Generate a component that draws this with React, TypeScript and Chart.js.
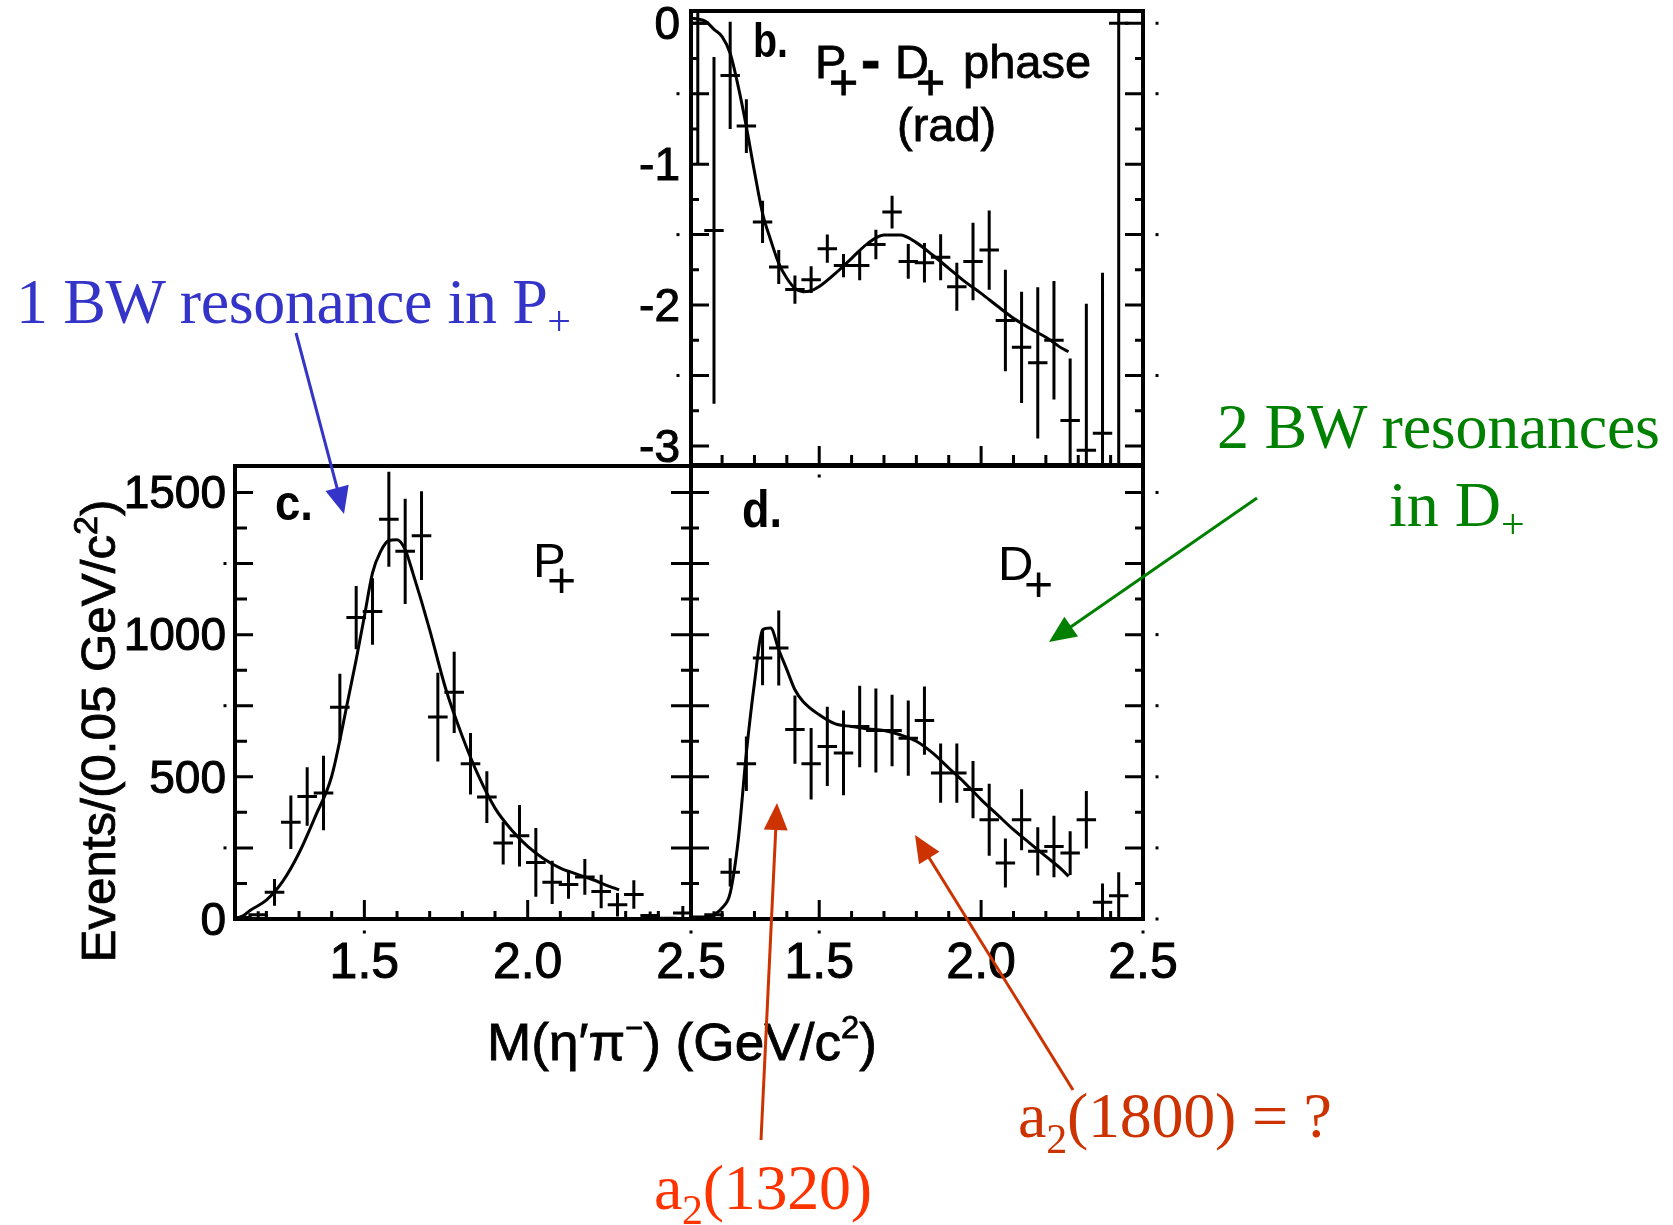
import React, { useEffect, useRef } from "react";
import { Chart, registerables } from "chart.js";

Chart.register(...registerables);

const PAGE_W = 1673;
const PAGE_H = 1225;
const SANS = "'Liberation Sans', Arial, Helvetica, sans-serif";
const SERIF = "'Liberation Serif', 'Times New Roman', serif";

// ---------------- Panel b : P+ - D+ phase (rad) ----------------
const phaseMass = [1.125, 1.175, 1.225, 1.275, 1.325, 1.375, 1.425, 1.475, 1.525, 1.575, 1.625, 1.675, 1.725, 1.775, 1.825, 1.875, 1.925, 1.975, 2.025, 2.075, 2.125, 2.175, 2.225, 2.275, 2.325, 2.375, 2.425];
const phaseValue = [0.0, -1.47, -0.37, -0.73, -1.41, -1.73, -1.89, -1.82, -1.6, -1.72, -1.72, -1.57, -1.34, -1.69, -1.7, -1.66, -1.87, -1.69, -1.61, -2.11, -2.3, -2.41, -2.25, -2.82, -3.03, -2.91, 0.0];
const phaseError = [1.0, 1.23, 0.38, 0.19, 0.15, 0.12, 0.1, 0.095, 0.1, 0.083, 0.104, 0.104, 0.116, 0.123, 0.14, 0.163, 0.17, 0.275, 0.282, 0.36, 0.395, 0.537, 0.421, 0.44, 1.04, 1.14, 3.5];
const phaseFitMass = [1.105, 1.125, 1.15, 1.175, 1.2, 1.225, 1.25, 1.275, 1.3, 1.325, 1.35, 1.375, 1.4, 1.425, 1.45, 1.475, 1.5, 1.55, 1.6, 1.65, 1.7, 1.75, 1.8, 1.85, 1.9, 1.95, 2.0, 2.05, 2.1, 2.15, 2.2, 2.25, 2.27];
const phaseFitValue = [0.035, 0.03, 0.012, -0.043, -0.095, -0.213, -0.45, -0.734, -1.053, -1.349, -1.538, -1.704, -1.81, -1.881, -1.905, -1.898, -1.869, -1.775, -1.668, -1.562, -1.503, -1.503, -1.557, -1.645, -1.739, -1.834, -1.917, -2.007, -2.094, -2.165, -2.229, -2.307, -2.331];

// ---------------- Panel c : P+ wave ----------------
const pWaveMass = [1.125, 1.175, 1.225, 1.275, 1.325, 1.375, 1.425, 1.475, 1.525, 1.575, 1.625, 1.675, 1.725, 1.775, 1.825, 1.875, 1.925, 1.975, 2.025, 2.075, 2.125, 2.175, 2.225, 2.275, 2.325, 2.375, 2.425, 2.475];
const pWaveEvents = [5, 15, 94, 340, 431, 443, 745, 1060, 1081, 1406, 1293, 1348, 710, 797, 546, 429, 267, 293, 199, 129, 121, 148, 97, 50, 86, 12, 3, 21];
const pWaveError = [8, 12, 47, 94, 103, 131, 117, 111, 117, 167, 185, 156, 156, 143, 108, 91, 75, 108, 121, 76, 50, 63, 59, 41, 50, 14, 5, 25];
const pFitMass = [1.105, 1.13, 1.15, 1.2, 1.25, 1.3, 1.35, 1.4, 1.45, 1.475, 1.5, 1.525, 1.55, 1.575, 1.6, 1.625, 1.65, 1.675, 1.7, 1.75, 1.8, 1.85, 1.9, 1.95, 2.0, 2.05, 2.1, 2.15, 2.2, 2.25, 2.28];
const pFitEvents = [2, 12, 30, 66, 132, 232, 361, 502, 771, 912, 1064, 1217, 1293, 1331, 1334, 1299, 1211, 1117, 1017, 806, 642, 502, 390, 314, 255, 211, 179, 158, 138, 115, 103];

// ---------------- Panel d : D+ wave ----------------
const dWaveMass = [1.125, 1.175, 1.225, 1.275, 1.325, 1.375, 1.425, 1.475, 1.525, 1.575, 1.625, 1.675, 1.725, 1.775, 1.825, 1.875, 1.925, 1.975, 2.025, 2.075, 2.125, 2.175, 2.225, 2.275, 2.325, 2.375, 2.425];
const dWaveEvents = [3, 15, 164, 546, 918, 953, 666, 546, 607, 584, 677, 663, 663, 636, 698, 513, 513, 455, 349, 197, 349, 238, 255, 232, 349, 59, 82];
const dWaveError = [5, 12, 50, 96, 96, 132, 120, 126, 139, 149, 143, 148, 126, 132, 120, 104, 104, 101, 127, 86, 107, 85, 108, 77, 101, 66, 82];
const dFitMass = [1.105, 1.15, 1.175, 1.2, 1.225, 1.25, 1.275, 1.3, 1.325, 1.35, 1.375, 1.4, 1.425, 1.45, 1.5, 1.55, 1.6, 1.65, 1.7, 1.75, 1.8, 1.85, 1.9, 1.95, 2.0, 2.05, 2.1, 2.15, 2.2, 2.25, 2.27];
const dFitEvents = [7, 7, 15, 39, 91, 279, 584, 830, 1017, 1023, 947, 877, 806, 765, 718, 686, 677, 668, 663, 648, 625, 584, 531, 478, 420, 367, 314, 267, 220, 173, 150];

// ---------------- Axis ticks ----------------
const massLabelTicks = [1.5, 2.0, 2.5];
const eventLabelTicks = [0, 500, 1000, 1500];
const phaseLabelTicks = [0, -1, -2, -3];
const massMajorTicks = [1.5, 2.0];
const massMinorTicks = [1.2, 1.3, 1.4, 1.6, 1.7, 1.8, 1.9, 2.1, 2.2, 2.3, 2.4];
const eventMajorTicks = [250, 500, 750, 1000, 1250, 1500];
const eventMinorTicks = [125, 375, 625, 875, 1125, 1375];
const phaseMajorTicks = [0, -0.5, -1, -1.5, -2, -2.5, -3];
const phaseMinorTicks = [-0.25, -0.75, -1.25, -1.75, -2.25, -2.75];

const MASS_MIN = 1.104;
const MASS_MAX = 2.5;
const XBAR = 0.03; // half width of horizontal error bar (GeV)

type Side = [number, number];
interface Dot { side: "left" | "right" | "bottom"; values: number[]; offset: number }
interface PanelSpec {
  id: string;
  area: { left: number; top: number; right: number; bottom: number };
  yMin: number;
  yMax: number;
  yLabels: number[] | null;
  yLabelPad: number;
  xLabels: number[] | null;
  yMajor: number[];
  yMinor: number[];
  left: Side;
  right: Side;
  bottom: Side;
  px: number[];
  py: number[];
  pe: number[];
  fx: number[];
  fy: number[];
  dots: Dot[];
}

function makeChart(canvas: HTMLCanvasElement, s: PanelSpec) {
  const yW = s.yLabels ? 140 : 0;
  const xH = s.xLabels ? 100 : 0;
  const padding = {
    left: s.area.left - yW,
    right: PAGE_W - s.area.right,
    top: s.area.top,
    bottom: PAGE_H - s.area.bottom - xH,
  };
  const decor = {
    id: "decor-" + s.id,
    afterDatasetsDraw(chart: any) {
      const ctx: CanvasRenderingContext2D = chart.ctx;
      const a = chart.chartArea;
      const xs = chart.scales.x;
      const ys = chart.scales.y;
      const X = (v: number) => xs.getPixelForValue(v);
      const Y = (v: number) => ys.getPixelForValue(v);
      // error bars
      ctx.save();
      ctx.beginPath();
      ctx.rect(a.left, a.top, a.right - a.left, a.bottom - a.top);
      ctx.clip();
      ctx.strokeStyle = "#000";
      ctx.lineWidth = 3;
      ctx.beginPath();
      s.px.forEach((m, i) => {
        const yv = Y(s.py[i]);
        ctx.moveTo(X(m - XBAR), yv);
        ctx.lineTo(X(m + XBAR), yv);
        ctx.moveTo(X(m), Y(s.py[i] + s.pe[i]));
        ctx.lineTo(X(m), Y(s.py[i] - s.pe[i]));
      });
      ctx.stroke();
      ctx.restore();
      // ticks
      ctx.save();
      ctx.strokeStyle = "#000";
      ctx.lineWidth = 3;
      ctx.beginPath();
      const yTick = (vals: number[], len: number, side: "l" | "r") => {
        vals.forEach((v) => {
          const p = Y(v);
          if (side === "l") {
            ctx.moveTo(a.left, p);
            ctx.lineTo(a.left + len, p);
          } else {
            ctx.moveTo(a.right, p);
            ctx.lineTo(a.right - len, p);
          }
        });
      };
      const xTick = (vals: number[], len: number) => {
        vals.forEach((v) => {
          const p = X(v);
          ctx.moveTo(p, a.bottom);
          ctx.lineTo(p, a.bottom - len);
        });
      };
      yTick(s.yMajor, s.left[0], "l");
      yTick(s.yMinor, s.left[1], "l");
      yTick(s.yMajor, s.right[0], "r");
      yTick(s.yMinor, s.right[1], "r");
      xTick(massMajorTicks, s.bottom[0]);
      xTick(massMinorTicks, s.bottom[1]);
      ctx.stroke();
      // frame
      ctx.lineWidth = 4;
      ctx.strokeRect(a.left, a.top, a.right - a.left, a.bottom - a.top);
      // small dots
      ctx.fillStyle = "#000";
      s.dots.forEach((d) => {
        d.values.forEach((v) => {
          if (d.side === "left") ctx.fillRect(a.left - d.offset - 1.5, Y(v) - 1.5, 3, 3);
          else if (d.side === "right") ctx.fillRect(a.right + d.offset - 1.5, Y(v) - 1.5, 3, 3);
          else ctx.fillRect(X(v) - 1.5, a.bottom + d.offset - 1.5, 3, 3);
        });
      });
      ctx.restore();
    },
  };

  return new Chart(canvas, {
    type: "line",
    data: {
      datasets: [
        {
          data: s.fx.map((x, i) => ({ x, y: s.fy[i] })),
          borderColor: "#000",
          borderWidth: 3,
          pointRadius: 0,
          fill: false,
          cubicInterpolationMode: "monotone",
        } as any,
      ],
    },
    options: {
      responsive: false,
      animation: false,
      devicePixelRatio: 1,
      events: [],
      layout: { padding },
      plugins: { legend: { display: false }, tooltip: { enabled: false }, title: { display: false } },
      scales: {
        x: {
          type: "linear",
          min: MASS_MIN,
          max: MASS_MAX,
          display: !!s.xLabels,
          grid: { display: false, drawTicks: false },
          border: { display: false },
          afterBuildTicks: (sc: any) => {
            if (s.xLabels) sc.ticks = s.xLabels.map((v) => ({ value: v }));
          },
          afterFit: (sc: any) => {
            sc.height = xH;
            sc.paddingLeft = 0;
            sc.paddingRight = 0;
          },
          ticks: {
            autoSkip: false,
            maxRotation: 0,
            minRotation: 0,
            padding: 15,
            color: "#000",
            textStrokeColor: "#000",
            textStrokeWidth: 1,
            font: { family: SANS, size: 50 },
            callback: (v: any) => Number(v).toFixed(1),
          },
        },
        y: {
          type: "linear",
          min: s.yMin,
          max: s.yMax,
          display: !!s.yLabels,
          grid: { display: false, drawTicks: false },
          border: { display: false },
          afterBuildTicks: (sc: any) => {
            if (s.yLabels) sc.ticks = s.yLabels.map((v) => ({ value: v }));
          },
          afterFit: (sc: any) => {
            sc.width = yW;
            sc.paddingTop = 0;
            sc.paddingBottom = 0;
          },
          ticks: {
            autoSkip: false,
            padding: s.yLabelPad,
            labelOffset: 3,
            color: "#000",
            textStrokeColor: "#000",
            textStrokeWidth: 1,
            font: { family: SANS, size: 46 },
            callback: (v: any) => String(v),
          },
        },
      },
    } as any,
    plugins: [decor as any],
  });
}

const panelB: PanelSpec = {
  id: "b",
  area: { left: 691, top: 11, right: 1143, bottom: 465 },
  yMin: -3.135,
  yMax: 0.087,
  yLabels: phaseLabelTicks,
  yLabelPad: 11,
  xLabels: null,
  yMajor: phaseMajorTicks,
  yMinor: phaseMinorTicks,
  left: [18, 8],
  right: [18, 8],
  bottom: [19, 10],
  px: phaseMass,
  py: phaseValue,
  pe: phaseError,
  fx: phaseFitMass,
  fy: phaseFitValue,
  dots: [
    { side: "left", values: [-0.5, -1.5, -2.5], offset: 13 },
    { side: "right", values: [0, -0.5, -1.5, -2.5], offset: 14 },
    { side: "bottom", values: [1.5], offset: 11 },
  ],
};

const panelC: PanelSpec = {
  id: "c",
  area: { left: 235, top: 466, right: 691, bottom: 919 },
  yMin: 0,
  yMax: 1593,
  yLabels: eventLabelTicks,
  yLabelPad: 9,
  xLabels: massLabelTicks,
  yMajor: eventMajorTicks,
  yMinor: eventMinorTicks,
  left: [18, 12],
  right: [20, 10],
  bottom: [19, 8],
  px: pWaveMass,
  py: pWaveEvents,
  pe: pWaveError,
  fx: pFitMass,
  fy: pFitEvents,
  dots: [
    { side: "left", values: [250, 750, 1250], offset: 10 },
    { side: "bottom", values: [1.5, 2.5], offset: 13 },
  ],
};

const panelD: PanelSpec = {
  id: "d",
  area: { left: 691, top: 466, right: 1143, bottom: 919 },
  yMin: 0,
  yMax: 1593,
  yLabels: null,
  yLabelPad: 9,
  xLabels: massLabelTicks,
  yMajor: eventMajorTicks,
  yMinor: eventMinorTicks,
  left: [18, 8],
  right: [18, 8],
  bottom: [19, 8],
  px: dWaveMass,
  py: dWaveEvents,
  pe: dWaveError,
  fx: dFitMass,
  fy: dFitEvents,
  dots: [
    { side: "right", values: [0, 250, 500, 750, 1000, 1500], offset: 14 },
    { side: "bottom", values: [1.5, 2.5], offset: 13 },
  ],
};

function Arrow(props: { x1: number; y1: number; x2: number; y2: number; color: string }) {
  const { x1, y1, x2, y2, color } = props;
  const head = 27;
  const half = 12;
  const dx = x2 - x1;
  const dy = y2 - y1;
  const L = Math.hypot(dx, dy);
  const ux = dx / L;
  const uy = dy / L;
  const bx = x2 - ux * head;
  const by = y2 - uy * head;
  const nx = -uy;
  const ny = ux;
  return (
    <g>
      <line x1={x1} y1={y1} x2={bx + ux * 2} y2={by + uy * 2} stroke={color} strokeWidth={3} />
      <polygon
        points={`${x2},${y2} ${bx + nx * half},${by + ny * half} ${bx - nx * half},${by - ny * half}`}
        fill={color}
      />
    </g>
  );
}

export default function App() {
  const refB = useRef<HTMLCanvasElement>(null);
  const refC = useRef<HTMLCanvasElement>(null);
  const refD = useRef<HTMLCanvasElement>(null);

  useEffect(() => {
    const charts = [
      makeChart(refB.current as HTMLCanvasElement, panelB),
      makeChart(refC.current as HTMLCanvasElement, panelC),
      makeChart(refD.current as HTMLCanvasElement, panelD),
    ];
    return () => charts.forEach((c) => c.destroy());
  }, []);

  const cv: React.CSSProperties = { position: "absolute", left: 0, top: 0 };
  const BLUE = "#3434c8";
  const GREEN = "#008000";
  const RED = "#cc3300";
  const RED2 = "#ff3300";
  const heavy = { stroke: "#000", strokeWidth: 0.8 };

  return (
    <div style={{ position: "absolute", left: 0, top: 0, width: PAGE_W, height: PAGE_H, background: "#fff", overflow: "hidden" }}>
      <canvas ref={refB} width={PAGE_W} height={PAGE_H} style={cv} />
      <canvas ref={refC} width={PAGE_W} height={PAGE_H} style={cv} />
      <canvas ref={refD} width={PAGE_W} height={PAGE_H} style={cv} />
      <svg width={PAGE_W} height={PAGE_H} style={{ position: "absolute", left: 0, top: 0 }}>
        {/* panel letters */}
        <text x={753} y={57} fontFamily={SANS} fontWeight="bold" fontSize={48} textLength={35} lengthAdjust="spacingAndGlyphs">b.</text>
        <text x={275} y={520} fontFamily={SANS} fontWeight="bold" fontSize={50} textLength={38} lengthAdjust="spacingAndGlyphs">c.</text>
        <text x={742} y={527} fontFamily={SANS} fontWeight="bold" fontSize={52} textLength={40} lengthAdjust="spacingAndGlyphs">d.</text>

        {/* panel b title */}
        <text fontFamily={SANS} fontSize={47} fill="#000" {...heavy}>
          <tspan x={815} y={78}>P</tspan>
          <tspan x={829} y={99} fontSize={50}>+</tspan>
          <tspan x={861} y={80} fontSize={58} fontWeight="bold">-</tspan>
          <tspan x={895} y={78}>D</tspan>
          <tspan x={916} y={99} fontSize={50}>+</tspan>
          <tspan x={963} y={78}>phase</tspan>
        </text>
        <text x={897} y={141} fontFamily={SANS} fontSize={47} {...heavy}>(rad)</text>

        {/* wave labels */}
        <text fontFamily={SANS} fontSize={49}>
          <tspan x={533} y={577}>P</tspan>
          <tspan x={547} y={597} fontSize={50}>+</tspan>
        </text>
        <text fontFamily={SANS} fontSize={49}>
          <tspan x={998} y={580}>D</tspan>
          <tspan x={1024} y={601} fontSize={50}>+</tspan>
        </text>

        {/* axis titles */}
        <text
          transform="translate(115 731) rotate(-90)"
          textAnchor="middle"
          fontFamily={SANS}
          fontSize={49}
          textLength={463}
          lengthAdjust="spacingAndGlyphs"
          {...heavy}
        >
          Events/(0.05 GeV/c<tspan dy={-18} fontSize={34}>2</tspan>
          <tspan dy={18}>)</tspan>
        </text>
        <text x={487} y={1060} fontFamily={SANS} fontSize={52} textLength={390} lengthAdjust="spacingAndGlyphs" {...heavy}>
          M(η′π<tspan dy={-22} fontSize={30}>−</tspan>
          <tspan dy={22}>) (GeV/c</tspan>
          <tspan dy={-22} fontSize={32}>2</tspan>
          <tspan dy={22}>)</tspan>
        </text>

        {/* annotations */}
        <text x={16} y={323} fontFamily={SERIF} fontSize={64} fill={BLUE} textLength={555}>
          1 BW resonance in P<tspan dy={12} fontSize={42}>+</tspan>
        </text>
        <Arrow x1={296} y1={333} x2={344} y2={514} color={BLUE} />

        <text x={1217} y={448} fontFamily={SERIF} fontSize={64} fill={GREEN} textLength={443}>
          2 BW resonances
        </text>
        <text x={1389} y={526} fontFamily={SERIF} fontSize={64} fill={GREEN}>
          in D<tspan dy={12} fontSize={42}>+</tspan>
        </text>
        <Arrow x1={1257} y1={498} x2={1049} y2={642} color={GREEN} />

        <text x={654} y={1209} fontFamily={SERIF} fontSize={64} fill={RED2} textLength={218}>
          a<tspan dy={15} fontSize={42}>2</tspan>
          <tspan dy={-15}>(1320)</tspan>
        </text>
        <Arrow x1={761} y1={1140} x2={777} y2={803} color={RED} />

        <text x={1018} y={1137} fontFamily={SERIF} fontSize={64} fill={RED} textLength={314}>
          a<tspan dy={16} fontSize={42}>2</tspan>
          <tspan dy={-16}>(1800) = ?</tspan>
        </text>
        <Arrow x1={1073} y1={1090} x2={915} y2={835} color={RED} />
      </svg>
    </div>
  );
}
